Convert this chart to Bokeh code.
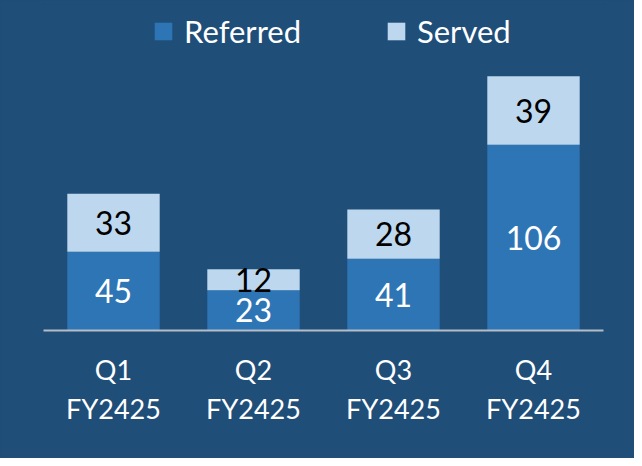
import numpy as np
from bokeh.plotting import figure
from bokeh.models import ColumnDataSource, FactorRange, Range1d
from bokeh.core.properties import value
from bokeh.embed import file_html
from bokeh.resources import INLINE

quarters = ["Q1\nFY2425", "Q2\nFY2425", "Q3\nFY2425", "Q4\nFY2425"]
referred = [45, 23, 41, 106]
served = [33, 12, 28, 39]
series = ["Referred", "Served"]

BG = "#1F4E79"
C_REF = "#2E75B6"
C_SRV = "#BDD7EE"
FONT = "Lato"

ref = np.array(referred, dtype=float)
srv = np.array(served, dtype=float)
src = ColumnDataSource(dict(q=quarters, Referred=referred, Served=served,
                            ref_mid=ref / 2, srv_mid=ref + srv / 2,
                            ref_txt=[str(v) for v in referred],
                            srv_txt=[str(v) for v in served]))

p = figure(width=634, height=458, x_range=FactorRange(*quarters),
           y_range=Range1d(0, 186), output_backend="svg", toolbar_location=None,
           min_border_left=43, min_border_right=31, min_border_top=4, min_border_bottom=128)
p.styles = {"background-color": BG}
p.background_fill_color = BG
p.border_fill_color = BG
p.outline_line_color = None
p.grid.visible = False
p.yaxis.visible = False

p.vbar_stack(series, x="q", width=0.66, source=src, color=[C_REF, C_SRV],
             line_color=None, legend_label=series)

p.text(x="q", y="ref_mid", text="ref_txt", source=src, text_align="center",
       text_baseline="middle", text_color="white", text_font=value(FONT),
       text_font_size="32px")
p.text(x="q", y="srv_mid", text="srv_txt", source=src, text_align="center",
       text_baseline="middle", text_color="black", text_font=value(FONT),
       text_font_size="32px")

ax = p.xaxis[0]
ax.axis_line_color = "#B4BCC6"
ax.axis_line_width = 2
ax.major_tick_line_color = None
ax.minor_tick_line_color = None
ax.major_label_text_color = "white"
ax.major_label_text_font = FONT
ax.major_label_text_font_size = "27px"
ax.major_label_text_line_height = 1.2
ax.major_label_standoff = 16

lg = p.legend[0]
lg.orientation = "horizontal"
lg.location = (109, 280)
lg.background_fill_alpha = 0
lg.border_line_color = None
lg.padding = 0
lg.margin = 0
lg.glyph_width = 22
lg.glyph_height = 22
lg.label_standoff = 10
lg.label_width = 130
lg.spacing = 71
lg.label_text_color = "white"
lg.label_text_font = FONT
lg.label_text_font_size = "31px"

open("out.html", "w").write(file_html(p, INLINE))
